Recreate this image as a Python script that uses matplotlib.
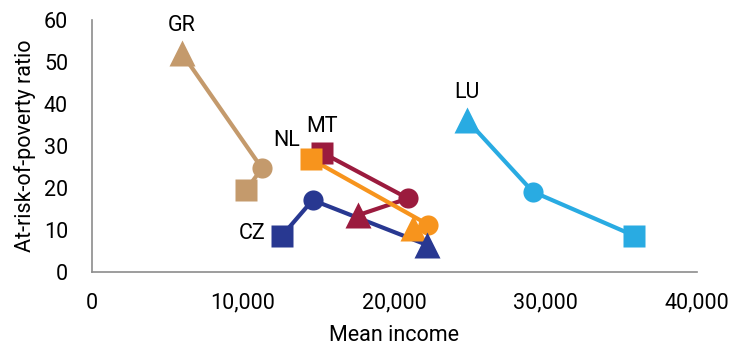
import matplotlib.pyplot as plt
from matplotlib.ticker import FuncFormatter

plt.rcParams["font.family"] = ["Roboto", "DejaVu Sans"]

# each country: points in order square -> circle -> triangle
countries = ["GR", "LU", "MT", "NL", "CZ"]
income = {
    "GR": [10200, 11250, 5950],
    "NL": [14500, 22250, 21250],
    "MT": [15250, 20900, 17600],
    "CZ": [12550, 14600, 22150],
    "LU": [35850, 29150, 24800],
}
poverty = {
    "GR": [19.5, 24.7, 52.2],
    "NL": [26.9, 11.2, 10.4],
    "MT": [28.4, 17.5, 13.5],
    "CZ": [8.5, 17.1, 6.4],
    "LU": [8.6, 19.1, 36.2],
}
colors = {
    "GR": "#C49A6C",
    "NL": "#F7941D",
    "MT": "#9B1B3E",
    "CZ": "#283891",
    "LU": "#29ABE2",
}
markers = ["s", "o", "^"]
msizes = [15.5, 14.5, 18.5]

# label anchor (index of point) and baseline offset in points
label_point = {"GR": 2, "NL": 0, "MT": 0, "CZ": 0, "LU": 2}
label_offset = {"GR": (0, 15.6), "NL": (-18, 9.6), "MT": (0, 15.1), "CZ": (-21, -2.4), "LU": (0, 15.6)}

fig = plt.figure(figsize=(7.35, 3.53), dpi=100)
ax = fig.add_axes([0.1248, 0.2303, 0.8235, 0.7117])

# lines first, markers on top (like the original chart)
for c in countries:
    ax.plot(income[c], poverty[c], color=colors[c], lw=3, zorder=2)

for k, c in enumerate(countries):
    xs, ys = income[c], poverty[c]
    for x, y, m, s in zip(xs, ys, markers, msizes):
        ax.plot(x, y, marker=m, ms=s, color=colors[c], mec="none", zorder=3 + k * 0.1)
    i = label_point[c]
    ax.annotate(c, (xs[i], ys[i]), xytext=label_offset[c], textcoords="offset points",
                ha="center", va="baseline", fontsize=15.5, color="black")

ax.set_xlim(0, 40000)
ax.set_ylim(0, 60)
ax.set_xticks([0, 10000, 20000, 30000, 40000])
ax.set_yticks(range(0, 61, 10))
ax.xaxis.set_major_formatter(FuncFormatter(lambda v, p: f"{int(v):,}"))

for side in ["top", "right"]:
    ax.spines[side].set_visible(False)
for side in ["left", "bottom"]:
    ax.spines[side].set_color("#8c8c8c")
    ax.spines[side].set_linewidth(1.2)

ax.tick_params(axis="both", length=0, labelsize=15.5, colors="black")
ax.tick_params(axis="x", pad=15)
ax.tick_params(axis="y", pad=17)

ax.set_xlabel("Mean income", fontsize=15.5, labelpad=8)
ax.set_ylabel("At-risk-of-poverty ratio", fontsize=15.5, labelpad=6)

fig.savefig("out.png", dpi=100)
